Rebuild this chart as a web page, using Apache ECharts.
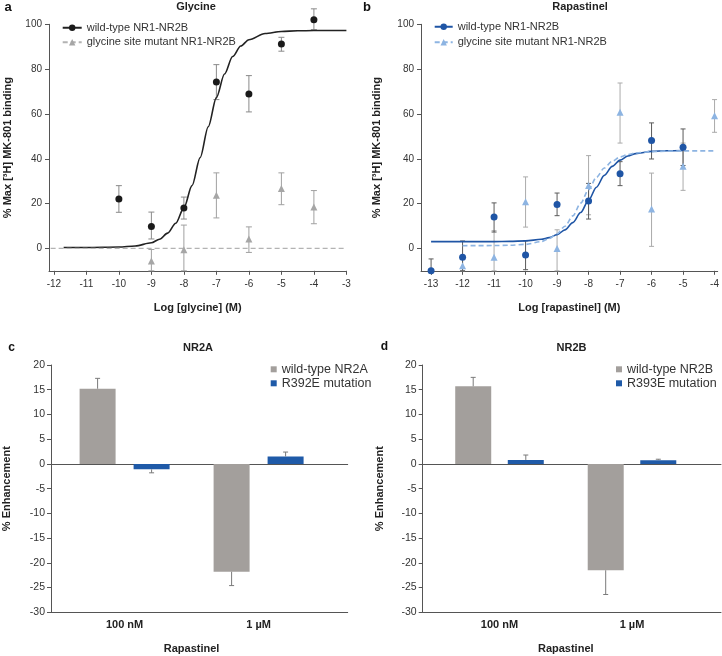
<!DOCTYPE html>
<html><head><meta charset="utf-8">
<script src="https://cdn.jsdelivr.net/npm/echarts@6/dist/echarts.min.js"></script>
<style>html,body{margin:0;padding:0;background:#fff}#c{width:722px;height:656px}</style>
</head><body><div id="c"></div>
<script>
// ---------- Panel a: Glycine ----------
const aTicksX = [-12,-11,-10,-9,-8,-7,-6,-5,-4,-3];
const abTicksY = [0,20,40,60,80,100];
const aWtX = [-10,-9,-8,-7,-6,-5,-4];
const aWt = [22,9.8,18,74.3,68.9,91.2,102];
const aWtLo = [16.1,4.2,13.1,66.4,60.9,88,97.6];
const aWtHi = [28,16.2,22.9,82,77.1,94.2,106.9];
const aMutX = [-9,-8,-7,-6,-5,-4];
const aMut = [-5.6,-0.6,23.7,4.2,26.7,18.5];
const aMutLo = [-10,-10,13.6,-1.8,19.5,11];
const aMutHi = [-0.5,10.4,33.7,9.6,33.7,25.8];
const aCurveX = [-11.7,-11,-10,-9.5,-9,-8.75,-8.5,-8.25,-8,-7.75,-7.5,-7.25,-7,-6.75,-6.5,-6.25,-6,-5.5,-5,-4.5,-4,-3];
const aCurveY = [0.4,0.42,0.62,1.1,2.5,4.1,6.8,11.2,18.1,28,40.5,54.3,67.3,77.8,85.6,90.3,93.1,95.9,96.8,97.1,97.2,97.2];
const aMutLineX = [-12.1,-3];
const aMutLineY = [0,0];

// ---------- Panel b: Rapastinel ----------
const bTicksX = [-13,-12,-11,-10,-9,-8,-7,-6,-5,-4];
const bWtX = [-13,-12,-11,-10,-9,-8,-7,-6,-5];
const bWt = [-10,-3.9,14,-3,19.6,21.1,33.3,48.1,45.1];
const bWtLo = [-10,-10,7.3,-9.5,14.6,13.1,28,39.9,37];
const bWtHi = [-4.7,3.3,20.3,3.4,24.7,29,38.7,56,53.3];
const bMutX = [-12,-11,-10,-9,-8,-7,-6,-5,-4];
const bMut = [-7.7,-4,20.8,0,28.1,60.7,17.6,36.6,59.2];
const bMutLo = [-10,-10,9.5,-10,15,47,0.9,25.9,51.8];
const bMutHi = [-4,7.9,31.9,8.3,41.4,73.8,33.6,47,66.4];
const bWtCurveX = [-13,-12,-11,-10.5,-10,-9.5,-9.25,-9,-8.75,-8.5,-8.25,-8,-7.75,-7.5,-7.25,-7,-6.75,-6.5,-6,-5.5,-5];
const bWtCurveY = [3.0,3.0,3.03,3.11,3.34,4.05,4.82,6.14,8.26,11.5,16.0,21.5,27.3,32.6,36.6,39.4,41.2,42.3,43.3,43.6,43.7];
const bMutCurveX = [-12,-11,-10.5,-10,-9.5,-9.25,-9,-8.75,-8.5,-8.25,-8,-7.75,-7.5,-7.25,-7,-6.75,-6.5,-6,-5.5,-5,-4];
const bMutCurveY = [1.21,1.26,1.39,1.8,3.05,4.38,6.54,9.85,14.5,20.2,26.2,31.7,35.9,38.9,40.8,41.9,42.6,43.2,43.4,43.5,43.5];

// ---------- Panels c, d: bars ----------
const barCats = ['100 nM','1 µM'];
const cWt = [15.2,-21.8];
const cWtErr = [17.3,-24.6];
const cMut = [-1.1,1.5];
const cMutErr = [-1.8,2.4];
const dWt = [15.7,-21.5];
const dWtErr = [17.5,-26.4];
const dMut = [0.8,0.75];
const dMutErr = [1.8,0.95];

const FONT = 'Liberation Sans, Arial, sans-serif';
const zip = (xs, ys) => xs.map((x,i)=>[x, ys[i]]);
const zip3 = (xs, a, b) => xs.map((x,i)=>[x, a[i], b[i]]);

function errRender(color, cap){
  return function(params, api){
    const x = api.value(0), lo = api.value(1), hi = api.value(2);
    const p1 = api.coord([x, lo]), p2 = api.coord([x, hi]);
    const style = {stroke: color, lineWidth: 1};
    return {type:'group', children:[
      {type:'line', shape:{x1:p1[0],y1:p1[1],x2:p2[0],y2:p2[1]}, style},
      {type:'line', shape:{x1:p1[0]-cap/2,y1:p1[1],x2:p1[0]+cap/2,y2:p1[1]}, style},
      {type:'line', shape:{x1:p2[0]-cap/2,y1:p2[1],x2:p2[0]+cap/2,y2:p2[1]}, style}
    ]};
  };
}
function barErrRender(color, cap, offset){
  return function(params, api){
    const c = api.value(0), v = api.value(1), e = api.value(2);
    const p1 = api.coord([c, v]), p2 = api.coord([c, e]);
    const x = p1[0] + offset;
    const style = {stroke: color, lineWidth: 1};
    return {type:'group', children:[
      {type:'line', shape:{x1:x,y1:p1[1],x2:x,y2:p2[1]}, style},
      {type:'line', shape:{x1:x-cap/2,y1:p2[1],x2:x+cap/2,y2:p2[1]}, style}
    ]};
  };
}

const axisColor = '#555';
const labelStyle = {fontSize:10, color:'#333', fontFamily:FONT};
const nameStyle = {fontSize:11, fontWeight:'bold', color:'#222', fontFamily:FONT};

function scatterXAxis(grid, min, max, ticks, name){
  return {type:'value', gridIndex:grid, min, max,
    axisLine:{onZero:false, lineStyle:{color:axisColor}},
    axisTick:{customValues:ticks, length:4, lineStyle:{color:axisColor}},
    axisLabel:{customValues:ticks, margin:8, ...labelStyle},
    splitLine:{show:false},
    name, nameLocation:'middle', nameGap:32, nameTextStyle:nameStyle};
}
function scatterYAxis(grid, gap){
  return {type:'value', gridIndex:grid, min:-10, max:100,
    axisLine:{show:true, onZero:false, lineStyle:{color:axisColor}},
    axisTick:{show:true, customValues:abTicksY, length:4, lineStyle:{color:axisColor}},
    axisLabel:{customValues:abTicksY, margin:7, ...labelStyle},
    splitLine:{show:false},
    name:'% Max [³H] MK-801 binding', nameLocation:'middle', nameGap:gap, nameTextStyle:nameStyle};
}

const option = {
  animation:false,
  backgroundColor:'#fff',
  textStyle:{fontFamily:FONT},
  grid:[
    {left:49, top:24.3, width:297.4, height:246.5},
    {left:421, top:24.3, width:296.7, height:246.5},
    {left:57.6, top:365, width:268, height:247.3},
    {left:49.3, top:365, width:298.4, height:247.3},
    {left:433.25, top:365, width:265, height:247.3},
    {left:422.7, top:365, width:298.3, height:247.3}
  ],
  xAxis:[
    scatterXAxis(0, -12.15, -3, aTicksX, 'Log [glycine] (M)'),
    scatterXAxis(1, -13.32, -3.9, bTicksX, 'Log [rapastinel] (M)'),
    {type:'category', gridIndex:2, data:barCats, axisLine:{show:false, onZero:false}, axisTick:{show:false},
     axisLabel:{margin:7, fontSize:11, fontWeight:'bold', color:'#222', fontFamily:FONT},
     name:'Rapastinel', nameLocation:'middle', nameGap:31, nameTextStyle:nameStyle},
    {type:'value', gridIndex:3, min:0, max:1, axisLine:{show:true, onZero:false, lineStyle:{color:axisColor}},
     axisTick:{show:false}, axisLabel:{show:false}, splitLine:{show:false}},
    {type:'value', gridIndex:3, min:0, max:1, axisLine:{show:true, onZero:true, lineStyle:{color:axisColor}},
     axisTick:{show:false}, axisLabel:{show:false}, splitLine:{show:false}},
    {type:'category', gridIndex:4, data:barCats, axisLine:{show:false, onZero:false}, axisTick:{show:false},
     axisLabel:{margin:7, fontSize:11, fontWeight:'bold', color:'#222', fontFamily:FONT},
     name:'Rapastinel', nameLocation:'middle', nameGap:31, nameTextStyle:nameStyle},
    {type:'value', gridIndex:5, min:0, max:1, axisLine:{show:true, onZero:false, lineStyle:{color:axisColor}},
     axisTick:{show:false}, axisLabel:{show:false}, splitLine:{show:false}},
    {type:'value', gridIndex:5, min:0, max:1, axisLine:{show:true, onZero:true, lineStyle:{color:axisColor}},
     axisTick:{show:false}, axisLabel:{show:false}, splitLine:{show:false}}
  ],
  yAxis:[
    scatterYAxis(0, 36),
    scatterYAxis(1, 39),
    {type:'value', gridIndex:2, min:-30, max:20, show:false},
    {type:'value', gridIndex:3, min:-30, max:20, interval:5,
     axisLine:{show:true, onZero:false, lineStyle:{color:axisColor}},
     axisTick:{show:true, length:4, lineStyle:{color:axisColor}},
     axisLabel:{margin:6, fontSize:10.5, color:'#333', fontFamily:FONT}, splitLine:{show:false},
     name:'% Enhancement', nameLocation:'middle', nameGap:39, nameTextStyle:nameStyle},
    {type:'value', gridIndex:4, min:-30, max:20, show:false},
    {type:'value', gridIndex:5, min:-30, max:20, interval:5,
     axisLine:{show:true, onZero:false, lineStyle:{color:axisColor}},
     axisTick:{show:true, length:4, lineStyle:{color:axisColor}},
     axisLabel:{margin:6, fontSize:10.5, color:'#333', fontFamily:FONT}, splitLine:{show:false},
     name:'% Enhancement', nameLocation:'middle', nameGap:37, nameTextStyle:nameStyle}
  ],
  legend:[
    {data:['wild-type NR1-NR2B','glycine site mutant NR1-NR2B'], orient:'vertical', left:61.7, top:20.5,
     itemWidth:19, itemHeight:8, itemGap:0, padding:0, selectedMode:false,
     textStyle:{fontSize:11, color:'#333', lineHeight:14.5, fontFamily:FONT}},
    {data:['wild-type NR1-NR2B (b)','glycine site mutant NR1-NR2B (b)'], orient:'vertical', left:433.7, top:19,
     itemWidth:18, itemHeight:8, itemGap:0, padding:0, selectedMode:false,
     formatter:n=>n.replace(' (b)',''),
     textStyle:{fontSize:11, color:'#333', lineHeight:15.5, fontFamily:FONT}},
    {data:['wild-type NR2A','R392E mutation'], orient:'vertical', left:270.7, top:362.3,
     icon:'rect', itemWidth:6, itemHeight:6, itemGap:0, padding:0, selectedMode:false,
     textStyle:{fontSize:12.5, color:'#333', lineHeight:14, fontFamily:FONT}},
    {data:['wild-type NR2B','R393E mutation'], orient:'vertical', left:616, top:362.3,
     icon:'rect', itemWidth:6, itemHeight:6, itemGap:0, padding:0, selectedMode:false,
     textStyle:{fontSize:12.5, color:'#333', lineHeight:14, fontFamily:FONT}}
  ],
  graphic:[
    {type:'text', x:8, y:7, style:{text:'a', font:'bold 13px '+FONT, fill:'#111', align:'center', verticalAlign:'middle'}},
    {type:'text', x:196, y:7, style:{text:'Glycine', font:'bold 11px '+FONT, fill:'#222', align:'center', verticalAlign:'middle'}},
    {type:'text', x:367, y:7, style:{text:'b', font:'bold 13px '+FONT, fill:'#111', align:'center', verticalAlign:'middle'}},
    {type:'text', x:580, y:7, style:{text:'Rapastinel', font:'bold 11px '+FONT, fill:'#222', align:'center', verticalAlign:'middle'}},
    {type:'text', x:11.5, y:348, style:{text:'c', font:'bold 12px '+FONT, fill:'#111', align:'center', verticalAlign:'middle'}},
    {type:'text', x:198, y:348, style:{text:'NR2A', font:'bold 11px '+FONT, fill:'#222', align:'center', verticalAlign:'middle'}},
    {type:'text', x:384.5, y:347, style:{text:'d', font:'bold 12px '+FONT, fill:'#111', align:'center', verticalAlign:'middle'}},
    {type:'text', x:571.5, y:348, style:{text:'NR2B', font:'bold 11px '+FONT, fill:'#222', align:'center', verticalAlign:'middle'}}
  ],
  series:[
    // panel a
    {type:'custom', name:'a wt err', xAxisIndex:0, yAxisIndex:0, z:1, clip:false, renderItem:errRender('#8a8a8a',6), data:zip3(aWtX,aWtLo,aWtHi)},
    {type:'custom', name:'a mut err', xAxisIndex:0, yAxisIndex:0, z:1, clip:false, renderItem:errRender('#a0a0a0',6), data:zip3(aMutX,aMutLo,aMutHi)},
    {type:'line', name:'wild-type NR1-NR2B', xAxisIndex:0, yAxisIndex:0, z:2, data:zip(aCurveX,aCurveY),
     smooth:0.3, smoothMonotone:'x', symbol:'circle', symbolSize:7, showSymbol:false,
     color:'#1a1a1a', itemStyle:{opacity:1}, lineStyle:{color:'#222', width:1.6}},
    {type:'line', name:'glycine site mutant NR1-NR2B', xAxisIndex:0, yAxisIndex:0, z:2, data:zip(aMutLineX,aMutLineY),
     symbol:'triangle', symbolSize:7, showSymbol:false,
     color:'#a6a6a6', lineStyle:{color:'#b3b3b3', width:1.2, type:[5,3]}},
    {type:'scatter', name:'a wt pts', xAxisIndex:0, yAxisIndex:0, z:3, clip:false, data:zip(aWtX,aWt), symbol:'circle', symbolSize:7, itemStyle:{color:'#1a1a1a', opacity:1}},
    {type:'scatter', name:'a mut pts', xAxisIndex:0, yAxisIndex:0, z:3, clip:false, data:zip(aMutX,aMut), symbol:'triangle', symbolSize:7, itemStyle:{color:'#a6a6a6', opacity:1}},
    // panel b
    {type:'custom', name:'b mut err', xAxisIndex:1, yAxisIndex:1, z:1, clip:false, renderItem:errRender('#ababab',5), data:zip3(bMutX,bMutLo,bMutHi)},
    {type:'custom', name:'b wt err', xAxisIndex:1, yAxisIndex:1, z:1, clip:false, renderItem:errRender('#5a5a5a',5), data:zip3(bWtX,bWtLo,bWtHi)},
    {type:'line', name:'wild-type NR1-NR2B (b)', xAxisIndex:1, yAxisIndex:1, z:2, data:zip(bWtCurveX,bWtCurveY),
     smooth:0.3, smoothMonotone:'x', symbol:'circle', symbolSize:7, showSymbol:false,
     color:'#1f55a5', lineStyle:{color:'#1f55a5', width:1.6}},
    {type:'line', name:'glycine site mutant NR1-NR2B (b)', xAxisIndex:1, yAxisIndex:1, z:2, data:zip(bMutCurveX,bMutCurveY),
     smooth:0.3, smoothMonotone:'x', symbol:'triangle', symbolSize:7, showSymbol:false,
     color:'#8db4e2', lineStyle:{color:'#8db4e2', width:1.6, type:[5,3]}},
    {type:'scatter', name:'b mut pts', xAxisIndex:1, yAxisIndex:1, z:3, clip:false, data:zip(bMutX,bMut), symbol:'triangle', symbolSize:7, itemStyle:{color:'#8db4e2', opacity:1}},
    {type:'scatter', name:'b wt pts', xAxisIndex:1, yAxisIndex:1, z:3, clip:false, data:zip(bWtX,bWt), symbol:'circle', symbolSize:7, itemStyle:{color:'#1f55a5', opacity:1}},
    // panel c
    {type:'bar', name:'wild-type NR2A', xAxisIndex:2, yAxisIndex:2, data:cWt, barWidth:36, barGap:'50%', itemStyle:{color:'#a39f9c'}},
    {type:'bar', name:'R392E mutation', xAxisIndex:2, yAxisIndex:2, data:cMut, barWidth:36, barGap:'50%', itemStyle:{color:'#1f5aa8'}},
    {type:'custom', name:'c wt err', xAxisIndex:2, yAxisIndex:2, z:3, clip:false, renderItem:barErrRender('#7a7a7a',5,-27), data:zip3(barCats.map((_,i)=>i),cWt,cWtErr)},
    {type:'custom', name:'c mut err', xAxisIndex:2, yAxisIndex:2, z:3, clip:false, renderItem:barErrRender('#7a7a7a',5,27), data:zip3(barCats.map((_,i)=>i),cMut,cMutErr)},
    // panel d
    {type:'bar', name:'wild-type NR2B', xAxisIndex:5, yAxisIndex:4, data:dWt, barWidth:36, barGap:'46%', itemStyle:{color:'#a39f9c'}},
    {type:'bar', name:'R393E mutation', xAxisIndex:5, yAxisIndex:4, data:dMut, barWidth:36, barGap:'46%', itemStyle:{color:'#1f5aa8'}},
    {type:'custom', name:'d wt err', xAxisIndex:5, yAxisIndex:4, z:3, clip:false, renderItem:barErrRender('#7a7a7a',5,-26.3), data:zip3(barCats.map((_,i)=>i),dWt,dWtErr)},
    {type:'custom', name:'d mut err', xAxisIndex:5, yAxisIndex:4, z:3, clip:false, renderItem:barErrRender('#7a7a7a',5,26.3), data:zip3(barCats.map((_,i)=>i),dMut,dMutErr)}
  ]
};
const chart = echarts.init(document.getElementById('c'), null, {renderer:'canvas'});
chart.setOption(option);
</script>
</body></html>
